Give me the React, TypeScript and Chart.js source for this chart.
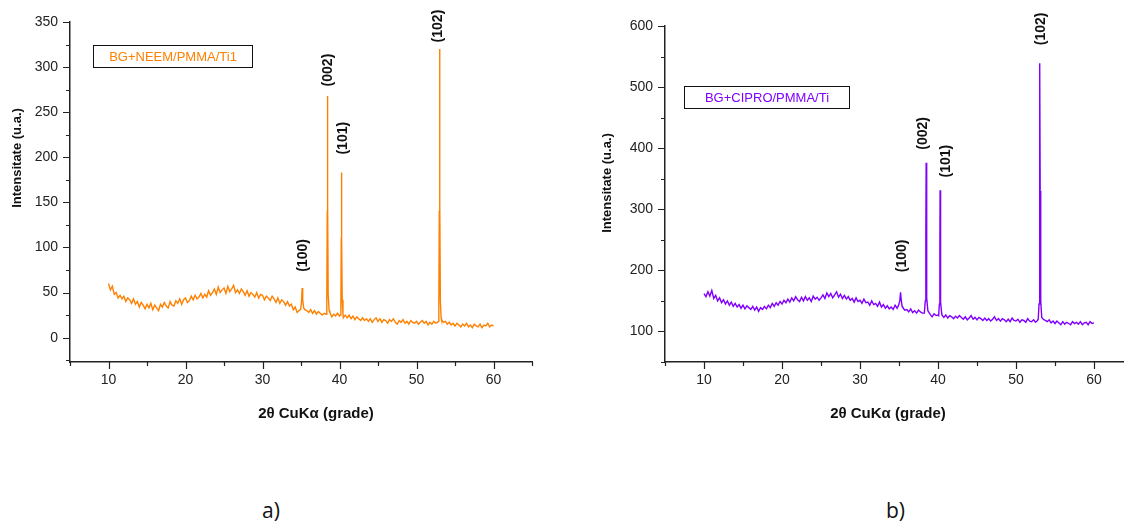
import React, { useEffect, useRef } from "react";
import { Chart, registerables } from "chart.js";

Chart.register(...registerables);

const FONT = "'Liberation Sans', Arial, Helvetica, sans-serif";

// Diffractogram scan grid: 10.00° .. 60.00° in 0.25° steps
const SCAN_START = 10;
const SCAN_STEP = 0.25;

// Sample a) BG+NEEM/PMMA/Ti1 — background intensity along the scan grid
const baseA: number[] = [
  60, 53, 57, 48, 50, 44, 47, 43, 46, 40, 44, 42, 38, 43, 37, 40,
  34, 39, 36, 32, 37, 33, 38, 31, 36, 33, 30, 37, 34, 39, 35, 33,
  40, 36, 35, 41, 38, 43, 37, 42, 44, 39, 41, 46, 42, 47, 43, 45,
  49, 44, 48, 45, 52, 47, 50, 54, 48, 56, 50, 53, 55, 49, 57, 51,
  54, 58, 50, 53, 49, 54, 51, 47, 52, 46, 50, 48, 45, 50, 44, 48,
  47, 42, 46, 44, 41, 46, 43, 39, 44, 38, 42, 40, 36, 40, 35, 37,
  31, 34, 28, 30, 29, 33, 31, 30, 28, 31, 27, 30, 26, 29, 27, 25,
  27, 24, 25, 28, 23, 26, 24, 27, 24, 25, 22, 25, 22, 25, 21, 24,
  20, 23, 21, 19, 22, 19, 21, 18, 21, 17, 20, 22, 18, 21, 17, 20,
  19, 16, 20, 18, 21, 17, 15, 19, 17, 20, 16, 18, 15, 19, 17, 16,
  18, 15, 17, 19, 16, 18, 14, 17, 15, 18, 16, 17, 18, 20, 17, 18,
  15, 17, 14, 16, 13, 16, 14, 12, 15, 13, 16, 12, 14, 11, 15, 13,
  12, 15, 11, 14, 13, 16, 12, 14, 13,
];

// Sample a) reflections: [2θ, intensity] profile points
const peak100A: number[][] = [[34.95, 31], [35.07, 40], [35.15, 55], [35.22, 42], [35.35, 33]];
const peak002A: number[][] = [[38.25, 26], [38.35, 42], [38.41, 140], [38.44, 268], [38.47, 150], [38.53, 48], [38.65, 30]];
const peak101A: number[][] = [[40.1, 25], [40.18, 40], [40.23, 110], [40.26, 183], [40.29, 110], [40.35, 42], [40.45, 27]];
const peak102A: number[][] = [[52.8, 18], [52.9, 35], [52.96, 140], [53.0, 320], [53.04, 150], [53.1, 40], [53.2, 22]];

// Sample b) BG+CIPRO/PMMA/Ti — background intensity along the scan grid
const baseB: number[] = [
  162, 157, 165, 158, 167, 154, 159, 150, 155, 147, 152, 145, 150, 143, 148, 141,
  146, 140, 144, 138, 143, 137, 142, 139, 136, 141, 135, 140, 133, 139, 136, 141,
  137, 143, 139, 146, 141, 147, 143, 149, 145, 151, 147, 153, 148, 155, 150, 157,
  152, 149, 156, 150, 157, 151, 155, 149, 158, 153, 156, 151, 155, 160, 154, 163,
  157, 162, 155, 160, 165, 156, 161, 154, 159, 153, 157, 151, 154, 148, 155, 149,
  151, 146, 153, 147, 148, 143, 150, 144, 146, 141, 148, 140, 144, 138, 142, 137,
  140, 136, 143, 138, 144, 146, 139, 135, 136, 132, 137, 131, 134, 130, 135, 132,
  130, 128, 131, 133, 128, 124, 129, 126, 127, 125, 127, 123, 127, 122, 126, 124,
  121, 125, 122, 126, 123, 120, 124, 119, 122, 126, 120, 123, 119, 123, 121, 118,
  122, 118, 121, 117, 120, 124, 118, 121, 117, 121, 119, 116, 120, 116, 122, 118,
  117, 120, 115, 119, 118, 115, 121, 117, 116, 119, 115, 118, 119, 121, 120, 118,
  116, 119, 114, 117, 113, 117, 114, 111, 116, 112, 115, 113, 111, 116, 113, 115,
  112, 116, 111, 114, 115, 111, 116, 113, 114,
];

// Sample b) reflections: [2θ, intensity] profile points
const peak100B: number[][] = [[34.95, 143], [35.1, 150], [35.2, 164], [35.28, 152], [35.4, 141]];
const peak002B: number[][] = [[38.25, 130], [38.37, 150], [38.44, 260], [38.48, 376], [38.52, 260], [38.58, 155], [38.7, 134]];
const peak101B: number[][] = [[40.08, 126], [40.18, 145], [40.24, 240], [40.27, 331], [40.3, 240], [40.36, 148], [40.48, 129]];
const peak102B: number[][] = [[52.85, 120], [52.95, 145], [53.02, 330], [53.06, 539], [53.1, 330], [53.17, 150], [53.3, 123]];

// Miller indices of the indexed reflections
const reflections: string[] = ["(100)", "(002)", "(101)", "(102)"];

const xTitle = "2θ CuKα (grade)";
const yTitle = "Intensitate (u.a.)";

type Pt = { x: number; y: number };

function buildPattern(base: number[], peaks: number[][][]): Pt[] {
  let pts: Pt[] = base.map((y, i) => ({ x: SCAN_START + i * SCAN_STEP, y }));
  for (const p of peaks) {
    const lo = p[0][0];
    const hi = p[p.length - 1][0];
    pts = pts.filter((q) => q.x < lo || q.x > hi);
    for (const [x, y] of p) pts.push({ x, y });
  }
  pts.sort((a, b) => a.x - b.x);
  return pts;
}

type PanelCfg = {
  name: string;
  color: string;
  data: Pt[];
  yMin: number;
  yMax: number;
  yStep: number;
  yMajor: number;
  canvasLeft: number;
  canvasWidth: number;
  padTop: number;
  legendAt: [number, number];
  legendW: number;
  labelAngles: number[];
  labelBases: number[];
  xTitleDx: number;
  yTitleDx: number;
  yTitleDy: number;
};

const panels: PanelCfg[] = [
  {
    name: "BG+NEEM/PMMA/Ti1",
    color: "#FF8000",
    data: buildPattern(baseA, [peak100A, peak002A, peak101A, peak102A]),
    yMin: -27,
    yMax: 350,
    yStep: 25,
    yMajor: 50,
    canvasLeft: 0,
    canvasWidth: 560,
    padTop: 22,
    legendAt: [8, 324.4],
    legendW: 159,
    labelAngles: [35.32, 38.57, 40.52, 52.86],
    labelBases: [73, 278.6, 203, 327.4],
    xTitleDx: 246,
    yTitleDx: -52.5,
    yTitleDy: 136,
  },
  {
    name: "BG+CIPRO/PMMA/Ti",
    color: "#8000FF",
    data: buildPattern(baseB, [peak100B, peak002B, peak101B, peak102B]),
    yMin: 50,
    yMax: 600,
    yStep: 50,
    yMajor: 100,
    canvasLeft: 595,
    canvasWidth: 566,
    padTop: 26,
    legendAt: [7.44, 502],
    legendW: 165,
    labelAngles: [35.35, 38.08, 41.03, 53.17],
    labelBases: [197, 397.6, 352, 568.6],
    xTitleDx: 223,
    yTitleDx: -57.5,
    yTitleDy: 157,
  },
];

const CANVAS_H = 440;
const AXIS_COLOR = "#222";

function Panel({ cfg }: { cfg: PanelCfg }) {
  const ref = useRef<HTMLCanvasElement>(null);

  useEffect(() => {
    const decorations = {
      id: "xrdDecorations",
      afterDraw(chart: any) {
        const ctx: CanvasRenderingContext2D = chart.ctx;
        const area = chart.chartArea;
        const xs = chart.scales.x;
        const ys = chart.scales.y;
        ctx.save();
        // tick marks, outward, long for labelled values
        ctx.strokeStyle = AXIS_COLOR;
        ctx.lineWidth = 1.2;
        ctx.beginPath();
        for (const t of xs.ticks) {
          const px = Math.round(xs.getPixelForValue(t.value)) + 0.5;
          const len = t.value % 10 === 0 ? 7 : 4;
          ctx.moveTo(px, area.bottom);
          ctx.lineTo(px, area.bottom + len);
        }
        for (const t of ys.ticks) {
          const py = Math.round(ys.getPixelForValue(t.value)) + 0.5;
          const len = t.value % cfg.yMajor === 0 ? 7 : 4;
          ctx.moveTo(area.left, py);
          ctx.lineTo(area.left - len, py);
        }
        ctx.stroke();

        // axis titles
        ctx.fillStyle = "#111";
        ctx.font = `bold 15px ${FONT}`;
        ctx.textAlign = "center";
        ctx.textBaseline = "alphabetic";
        ctx.fillText(xTitle, area.left + cfg.xTitleDx, area.bottom + 56);

        ctx.save();
        ctx.translate(area.left + cfg.yTitleDx, area.top + cfg.yTitleDy);
        ctx.rotate(-Math.PI / 2);
        ctx.font = `bold 13px ${FONT}`;
        ctx.textBaseline = "middle";
        ctx.fillText(yTitle, 0, 0);
        ctx.restore();

        // sample legend box
        const lx = Math.round(xs.getPixelForValue(cfg.legendAt[0])) + 0.5;
        const ly = Math.round(ys.getPixelForValue(cfg.legendAt[1])) + 0.5;
        ctx.fillStyle = "#fff";
        ctx.fillRect(lx, ly, cfg.legendW, 22);
        ctx.strokeStyle = "#111";
        ctx.lineWidth = 1;
        ctx.strokeRect(lx, ly, cfg.legendW, 22);
        ctx.fillStyle = cfg.color;
        ctx.font = `13px ${FONT}`;
        ctx.textAlign = "center";
        ctx.textBaseline = "middle";
        ctx.fillText(cfg.name, lx + cfg.legendW / 2, ly + 11.5);

        // reflection indices, vertical
        ctx.fillStyle = "#111";
        ctx.font = `bold 14px ${FONT}`;
        reflections.forEach((label, i) => {
          const px = xs.getPixelForValue(cfg.labelAngles[i]);
          const py = ys.getPixelForValue(cfg.labelBases[i]);
          ctx.save();
          ctx.translate(px, py);
          ctx.rotate(-Math.PI / 2);
          ctx.textAlign = "left";
          ctx.textBaseline = "middle";
          ctx.fillText(label, 0, 0);
          ctx.restore();
        });
        ctx.restore();
      },
    };

    const chart = new Chart(ref.current!, {
      type: "line",
      data: {
        datasets: [
          {
            data: cfg.data as any,
            borderColor: cfg.color,
            borderWidth: 1.4,
            pointRadius: 0,
            tension: 0,
            fill: false,
          },
        ],
      },
      options: {
        animation: false,
        responsive: false,
        devicePixelRatio: 1,
        layout: { padding: { top: cfg.padTop, right: 28, left: 0, bottom: 0 } },
        plugins: {
          legend: { display: false },
          tooltip: { enabled: false },
        },
        scales: {
          x: {
            type: "linear",
            min: 5,
            max: 65,
            grid: { display: true, drawOnChartArea: false, drawTicks: false },
            border: { display: true, color: AXIS_COLOR, width: 1.5 },
            ticks: {
              stepSize: 5,
              autoSkip: false,
              maxRotation: 0,
              padding: 10,
              color: "#222",
              font: { family: FONT, size: 14 },
              callback: (v: any) => (Number(v) % 10 === 0 ? String(v) : ""),
            },
            afterFit(scale: any) {
              scale.height = 78;
              scale.paddingLeft = 0;
              scale.paddingRight = 0;
            },
          },
          y: {
            type: "linear",
            min: cfg.yMin,
            max: cfg.yMax,
            grid: { display: true, drawOnChartArea: false, drawTicks: false },
            border: { display: true, color: AXIS_COLOR, width: 1.5 },
            ticks: {
              stepSize: cfg.yStep,
              includeBounds: false,
              autoSkip: false,
              padding: 12,
              color: "#222",
              font: { family: FONT, size: 14 },
              callback: (v: any) => (Number(v) % cfg.yMajor === 0 ? String(v) : ""),
            },
            afterFit(scale: any) {
              scale.width = 70;
              scale.paddingTop = 0;
              scale.paddingBottom = 0;
            },
          },
        },
      },
      plugins: [decorations],
    });
    return () => chart.destroy();
  }, [cfg]);

  return (
    <canvas
      ref={ref}
      width={cfg.canvasWidth}
      height={CANVAS_H}
      style={{
        position: "absolute",
        left: cfg.canvasLeft,
        top: 0,
        width: cfg.canvasWidth,
        height: CANVAS_H,
      }}
    />
  );
}

const captionStyle: React.CSSProperties = {
  position: "absolute",
  top: 498,
  fontFamily: "'Open Sans', 'Liberation Sans', sans-serif",
  fontSize: 21,
  lineHeight: "24px",
  color: "#111",
};

export default function App() {
  return (
    <div
      style={{
        position: "absolute",
        left: 0,
        top: 0,
        width: 1124,
        height: 523,
        overflow: "hidden",
        background: "#fff",
      }}
    >
      {panels.map((p) => (
        <Panel key={p.name} cfg={p} />
      ))}
      <div style={{ ...captionStyle, left: 262 }}>a)</div>
      <div style={{ ...captionStyle, left: 886 }}>b)</div>
    </div>
  );
}
